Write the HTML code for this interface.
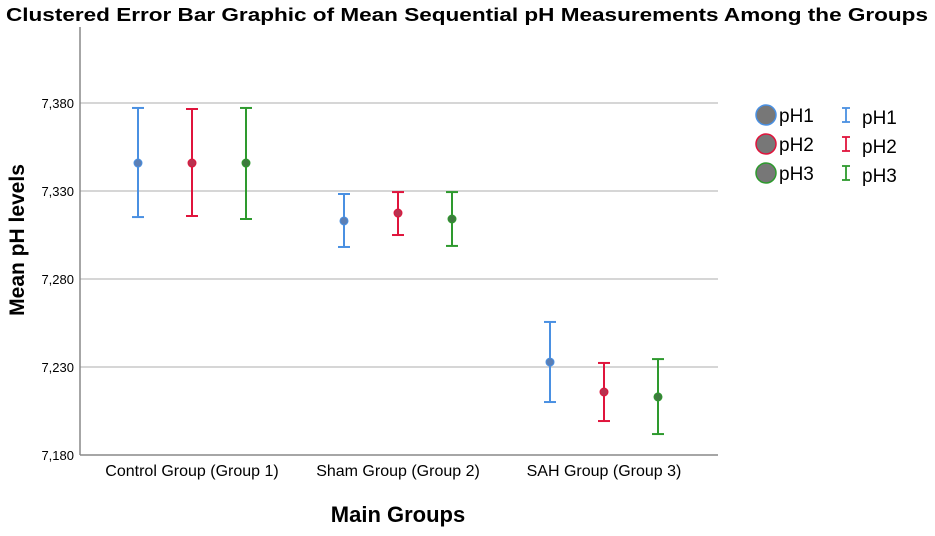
<!DOCTYPE html>
<html><head><meta charset="utf-8"><style>
body{margin:0;background:#fff;width:935px;height:531px;overflow:hidden;font-family:"Liberation Sans",sans-serif}
</style></head><body>
<svg id="chart" width="935" height="531" xmlns="http://www.w3.org/2000/svg">
<text x="467" y="21" text-anchor="middle" font-size="18" font-weight="bold" textLength="922" lengthAdjust="spacingAndGlyphs">Clustered Error Bar Graphic of Mean Sequential pH Measurements Among the Groups</text>
<text transform="translate(24,240) rotate(-90)" text-anchor="middle" font-size="21" font-weight="bold">Mean pH levels</text>
<text x="398" y="522" text-anchor="middle" font-size="22" font-weight="bold">Main Groups</text>
<g id="grid"></g><g id="marks"></g><g id="legend"></g>
</svg>
<script>
const categories=["Control Group (Group 1)","Sham Group (Group 2)","SAH Group (Group 3)"];
const seriesNames=["pH1","pH2","pH3"];
const colors=["#4a90e2","#e0143c","#2e9a2e"];
const dotColors=["#5b7fb5","#b8324f","#3f7a3f"];
const yTicks=[7.18,7.23,7.28,7.33,7.38];
const yTickLabels=["7,180","7,230","7,280","7,330","7,380"];
const pH1Mean=[7.3459,7.3130,7.2328];
const pH1Upper=[7.3772,7.3283,7.2556];
const pH1Lower=[7.3152,7.2982,7.2101];
const pH2Mean=[7.3459,7.3175,7.2158];
const pH2Upper=[7.3766,7.3294,7.2323];
const pH2Lower=[7.3158,7.3050,7.1993];
const pH3Mean=[7.3459,7.3141,7.2130];
const pH3Upper=[7.3772,7.3294,7.2345];
const pH3Lower=[7.3141,7.2988,7.1919];
const means=[pH1Mean,pH2Mean,pH3Mean],ups=[pH1Upper,pH2Upper,pH3Upper],lows=[pH1Lower,pH2Lower,pH3Lower];
const NS="http://www.w3.org/2000/svg";
const L=80,R=718,T=27,B=455,ymin=7.18,ymax=7.4232;
const y=v=>B-(v-ymin)/(ymax-ymin)*(B-T);
const cx0=192,cw=206;
const xc=c=>cx0+cw*c;
const x=(c,s)=>xc(c)+(s-1)*54;
function mk(tag,attrs,parent){const e=document.createElementNS(NS,tag);for(const k in attrs)e.setAttribute(k,attrs[k]);parent.appendChild(e);return e;}
const grid=document.getElementById('grid'),marks=document.getElementById('marks'),leg=document.getElementById('legend');
yTicks.forEach((t,i)=>{
 if(i>0){const g=mk('line',{x1:L,x2:R,y1:y(t),y2:y(t),stroke:'#bdbdbd','stroke-width':1.3},grid);
 
 }
 const tx=mk('text',{x:L-6,y:y(t)+5,'text-anchor':'end','font-size':13},grid);tx.textContent=yTickLabels[i];
 
 
});
const ax=mk('line',{x1:L,x2:L,y1:T,y2:B,stroke:'#888','stroke-width':1.5},grid);


const bx=mk('line',{x1:L,x2:R,y1:B,y2:B,stroke:'#888','stroke-width':1.5},grid);


categories.forEach((c,i)=>{const t=mk('text',{x:xc(i),y:476,'text-anchor':'middle','font-size':16},grid);t.textContent=c;
 
 });
for(let s=0;s<3;s++)for(let c=0;c<3;c++){
 const g=mk('g',{},marks);
 
 
 const xx=x(c,s);
 mk('line',{x1:xx,x2:xx,y1:y(ups[s][c]),y2:y(lows[s][c]),stroke:colors[s],'stroke-width':2},g);
 mk('line',{x1:xx-6,x2:xx+6,y1:y(ups[s][c]),y2:y(ups[s][c]),stroke:colors[s],'stroke-width':2},g);
 mk('line',{x1:xx-6,x2:xx+6,y1:y(lows[s][c]),y2:y(lows[s][c]),stroke:colors[s],'stroke-width':2},g);
 mk('circle',{cx:xx,cy:y(means[s][c]),r:4,fill:dotColors[s],stroke:colors[s],'stroke-width':1},g);
}
seriesNames.forEach((n,i)=>{
 const yy=115+i*29;
 const c=mk('circle',{cx:766,cy:yy,r:10,fill:'#777',stroke:colors[i],'stroke-width':1.5},leg);
 
 
 const t=mk('text',{x:779,y:yy+7,'font-size':19},leg);t.textContent=n;
 
 
 const ey=yy-7;
 const g=mk('g',{},leg);
 
 
 mk('line',{x1:846,x2:846,y1:ey,y2:ey+14,stroke:colors[i],'stroke-width':1.8},g);
 mk('line',{x1:842,x2:850,y1:ey,y2:ey,stroke:colors[i],'stroke-width':1.8},g);
 mk('line',{x1:842,x2:850,y1:ey+14,y2:ey+14,stroke:colors[i],'stroke-width':1.8},g);
 const t2=mk('text',{x:862,y:yy+9,'font-size':19},leg);t2.textContent=n;
 
 
});
</script>
</body></html>
